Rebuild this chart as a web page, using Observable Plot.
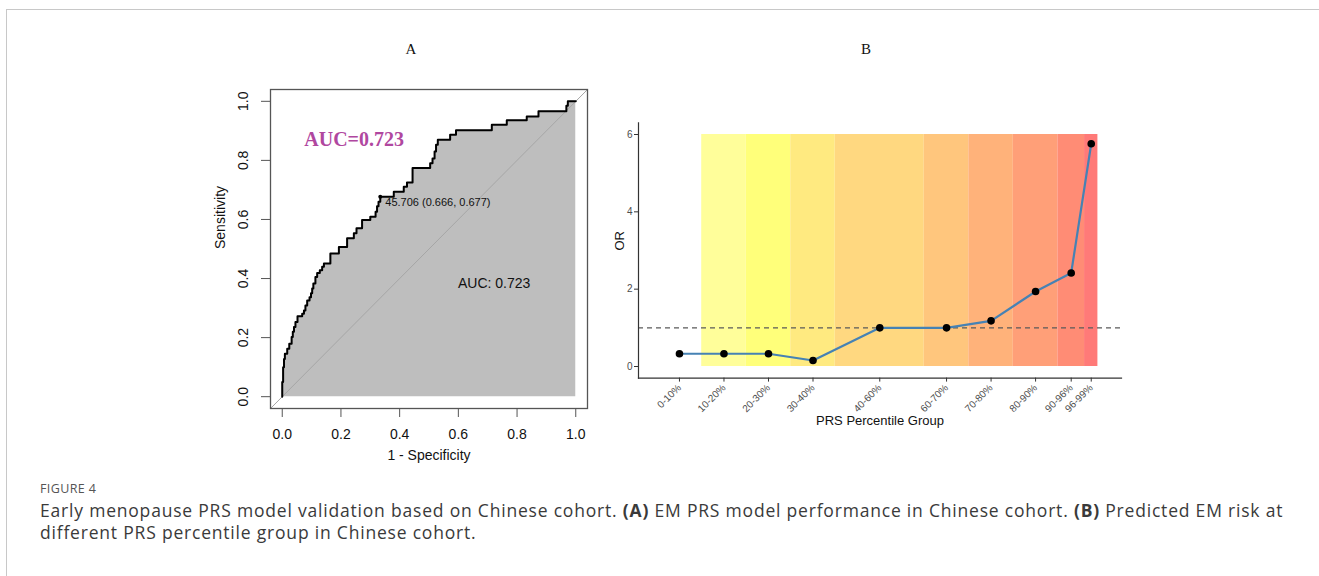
<!DOCTYPE html>
<html>
<head>
<meta charset="utf-8">
<script src="https://cdn.jsdelivr.net/npm/d3@7"></script>
<script src="https://cdn.jsdelivr.net/npm/@observablehq/plot@0.6"></script>
<style>
  html, body { margin: 0; padding: 0; background: #fff; }
  #page { position: relative; width: 1319px; height: 576px; overflow: hidden; background: #fff; }
  #frame { position: absolute; left: 6px; top: 9px; width: 1400px; height: 700px;
           border-top: 1.5px solid #c8c8c8; border-left: 1.5px solid #c8c8c8; }
  .panel { position: absolute; }
  .plabel { position: absolute; font-family: "Liberation Serif", "DejaVu Serif", serif; font-size: 15px; color: #111; transform: translate(-50%, -50%); }
  #fig { position: absolute; left: 40px; top: 480px; font-family: "Open Sans", sans-serif; font-size: 12.5px; color: #555; letter-spacing: 0.4px; }
  #cap { position: absolute; left: 40px; top: 499px; font-family: "Open Sans", sans-serif; font-size: 17.5px; color: #3a3a3a; line-height: 22px; letter-spacing: 0.8px; white-space: nowrap; }
</style>
</head>
<body>
<div id="page">
  <div id="frame"></div>
  <div class="plabel" style="left:411px; top:49px;">A</div>
  <div class="plabel" style="left:866px; top:49px;">B</div>
  <div id="panelA" class="panel" style="left:200px; top:70px;"></div>
  <div id="panelB" class="panel" style="left:600px; top:100px;"></div>
  <div id="fig">FIGURE 4</div>
  <div id="cap">Early menopause PRS model validation based on Chinese cohort. <b>(A)</b> EM PRS model performance in Chinese cohort. <b>(B)</b> Predicted EM risk at<br>different PRS percentile group in Chinese cohort.</div>
</div>
<script>
// ---------- Panel A: ROC curve ----------
const rocFPR = [0,0,0.003,0.003,0.006,0.006,0.009,0.009,0.017,0.017,0.024,0.024,0.032,0.032,0.036,0.036,0.040,0.040,0.045,0.045,0.052,0.052,0.068,0.068,0.074,0.074,0.079,0.079,0.085,0.085,0.093,0.093,0.098,0.098,0.102,0.102,0.106,0.106,0.113,0.113,0.119,0.119,0.128,0.128,0.136,0.136,0.142,0.142,0.164,0.164,0.193,0.193,0.221,0.221,0.244,0.244,0.253,0.253,0.272,0.272,0.300,0.300,0.318,0.318,0.323,0.323,0.328,0.328,0.334,0.334,0.380,0.380,0.414,0.414,0.425,0.425,0.444,0.444,0.504,0.504,0.512,0.512,0.519,0.519,0.524,0.524,0.530,0.530,0.572,0.572,0.592,0.592,0.714,0.714,0.765,0.765,0.833,0.833,0.873,0.873,0.968,0.968,0.973,0.973,1.0];
const rocSens = [0,0.05,0.05,0.10,0.10,0.128,0.128,0.145,0.145,0.162,0.162,0.179,0.179,0.202,0.202,0.220,0.220,0.236,0.236,0.253,0.253,0.272,0.272,0.281,0.281,0.292,0.292,0.309,0.309,0.326,0.326,0.337,0.337,0.350,0.350,0.366,0.366,0.383,0.383,0.405,0.405,0.419,0.419,0.428,0.428,0.440,0.440,0.451,0.451,0.485,0.485,0.507,0.507,0.536,0.536,0.553,0.553,0.570,0.570,0.598,0.598,0.609,0.609,0.626,0.626,0.645,0.645,0.660,0.660,0.677,0.677,0.694,0.694,0.711,0.711,0.725,0.725,0.774,0.774,0.790,0.790,0.806,0.806,0.830,0.830,0.853,0.853,0.870,0.870,0.887,0.887,0.902,0.902,0.921,0.921,0.936,0.936,0.949,0.949,0.966,0.966,0.985,0.985,1.0,1.0];
const rocTicks = [0, 0.2, 0.4, 0.6, 0.8, 1.0];
const thresholdPoint = [{fpr: 0.334, sens: 0.677, label: "45.706 (0.666, 0.677)"}];
const aucLabel = [{fpr: 0.722, sens: 0.384, label: "AUC: 0.723"}];
const aucTitle = [{fpr: 0.245, sens: 0.87, label: "AUC=0.723"}];

// ---------- Panel B: OR by PRS percentile group ----------
const groups = ["0-10%","10-20%","20-30%","30-40%","40-60%","60-70%","70-80%","80-90%","90-96%","96-99%"];
const groupMid = [5, 15, 25, 35, 50, 65, 75, 85, 93, 97.5];
const orValues = [0.33, 0.33, 0.33, 0.155, 1.0, 1.0, 1.18, 1.94, 2.42, 5.76];
const bandStart = [10, 20, 30, 40, 60, 70, 80, 90, 96];
const bandEnd   = [20, 30, 40, 60, 70, 80, 90, 96, 99];
const bandColors = ["#FFFE9A","#FFFF7A","#FFEA80","#FFD880","#FFC67D","#FFB27A","#FF9F78","#FF8C75","#FF7A78"];
const orTicks = [0, 2, 4, 6];

const rocData = rocFPR.map((x, i) => ({x, y: rocSens[i]}));
const pad = 0.04;
const sans = "'Liberation Sans', Arial, Helvetica, sans-serif";

const plotA = Plot.plot({
  width: 420, height: 420,
  marginLeft: 70, marginRight: 33, marginTop: 19, marginBottom: 82,
  x: {domain: [-pad, 1 + pad], label: null},
  y: {domain: [-pad, 1 + pad], label: null},
  style: {fontFamily: sans, fontSize: "14px", background: "transparent", color: "#111", overflow: "visible"},
  marks: [
    Plot.areaY(rocData, {x: "x", y1: 0, y2: "y", fill: "#bebebe"}),
    Plot.link([0], {x1: -pad, y1: -pad, x2: 1 + pad, y2: 1 + pad, stroke: "#a6a6a6", strokeWidth: 1}),
    Plot.line(rocData, {x: "x", y: "y", stroke: "#000", strokeWidth: 2}),
    Plot.dot(thresholdPoint, {x: "fpr", y: "sens", r: 2, fill: "#000"}),
    Plot.text(thresholdPoint, {x: "fpr", y: "sens", text: "label", textAnchor: "start", dx: 5, dy: 6, fontSize: 11, fill: "#111"}),
    Plot.text(aucLabel, {x: "fpr", y: "sens", text: "label", fontSize: 14, fill: "#111"}),
    Plot.text(aucTitle, {x: "fpr", y: "sens", text: "label", fontSize: 20, fontWeight: "bold", fontFamily: "'Liberation Serif', 'Times New Roman', serif", fill: "#b0479f"}),
    Plot.frame({stroke: "#555", strokeWidth: 1.3}),
    Plot.axisX({ticks: rocTicks, tickSize: 9, tickPadding: 12, tickFormat: d3.format(".1f"), fontSize: 14, stroke: "#555", fill: "#111", label: null}),
    Plot.axisY({ticks: rocTicks, tickSize: 9, tickFormat: () => "", stroke: "#555", label: null}),
    Plot.text(rocTicks, {y: d => d, frameAnchor: "left", dx: -27, rotate: -90, text: d3.format(".1f"), textAnchor: "middle", lineAnchor: "middle", fontSize: 14, fill: "#111"}),
    Plot.text(["Sensitivity"], {frameAnchor: "left", dx: -50, rotate: -90, fontSize: 14, fill: "#111"}),
    Plot.text(["1 - Specificity"], {frameAnchor: "bottom", dy: 51, fontSize: 14, fill: "#111"})
  ]
});
document.getElementById("panelA").appendChild(plotA);

const orData = groups.map((g, i) => ({group: g, mid: groupMid[i], or: orValues[i]}));
const bands = bandStart.map((s, i) => ({x1: s, x2: bandEnd[i], color: bandColors[i]}));

const plotB = Plot.plot({
  width: 540, height: 340,
  marginLeft: 38, marginRight: 19, marginTop: 22.4, marginBottom: 62.4,
  x: {domain: [-4.2, 104.3], label: null},
  y: {domain: [-0.3, 6.3], label: null},
  style: {fontFamily: sans, fontSize: "10px", background: "transparent", color: "#4d4d4d", overflow: "visible"},
  marks: [
    Plot.rect(bands, {x1: "x1", x2: "x2", y1: 0, y2: 6, fill: "color"}),
    Plot.ruleY([1], {stroke: "#5a5a5a", strokeWidth: 1.1, strokeDasharray: "5,4"}),
    Plot.line(orData, {x: "mid", y: "or", stroke: "#4682b4", strokeWidth: 2.2}),
    Plot.dot(orData, {x: "mid", y: "or", r: 3.8, fill: "#000"}),
    Plot.axisX({ticks: groupMid, tickFormat: d => groups[groupMid.indexOf(d)], tickRotate: -45, tickSize: 4, tickPadding: 4, fontSize: 10, stroke: "#333", fill: "#4d4d4d", label: null}),
    Plot.axisY({ticks: orTicks, tickSize: 4, tickPadding: 2, tickFormat: d3.format("d"), fontSize: 10, stroke: "#333", fill: "#4d4d4d", label: null}),
    Plot.frame({anchor: "bottom", stroke: "#333", strokeWidth: 1.2}),
    Plot.frame({anchor: "left", stroke: "#333", strokeWidth: 1.2}),
    Plot.text(["OR"], {frameAnchor: "left", dx: -19, rotate: -90, fontSize: 13, fill: "#111"}),
    Plot.text(["PRS Percentile Group"], {frameAnchor: "bottom", dy: 47, fontSize: 13, fill: "#111"})
  ]
});
document.getElementById("panelB").appendChild(plotB);
</script>
</body>
</html>
